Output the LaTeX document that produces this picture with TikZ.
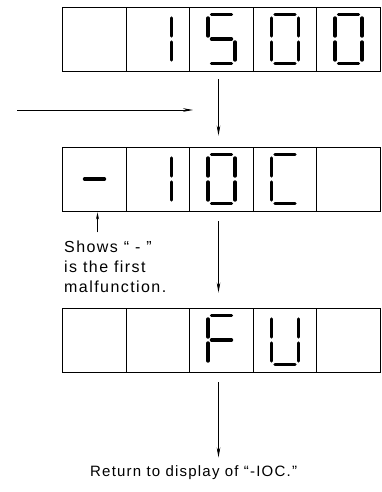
\documentclass[tikz,border=0pt]{standalone}
\usepackage{fontspec}
\setmainfont{Liberation Sans}
\usetikzlibrary{arrows.meta,positioning,calc}

\begin{document}
\begin{tikzpicture}[
  x=1pt,
  y=-1pt,
  digit cell/.style={
    draw,
    line width=0.9pt,
    minimum width=63.5pt,
    minimum height=64pt,
    inner sep=0pt
  },
  segment/.style={line width=3.4pt, line cap=round},
  flow/.style={line width=0.7pt, -{Stealth[length=10pt,width=3.6pt]}},
  label text/.style={
    font=\fontsize{15}{19.5}\selectfont\addfontfeature{LetterSpace=8},
    inner sep=0pt
  },
  note text/.style={
    font=\fontsize{16}{20}\selectfont\addfontfeature{LetterSpace=9},
    inner sep=0pt
  },
  seg a/.pic={\draw[segment] (-10,-24.5) -- (10,-24.5);},
  seg b/.pic={\draw[segment] (13.5,-21) -- (13.5,-3);},
  seg c/.pic={\draw[segment] (13.5,3) -- (13.5,21);},
  seg d/.pic={\draw[segment] (-10,24.5) -- (10,24.5);},
  seg e/.pic={\draw[segment] (-13.5,3) -- (-13.5,21);},
  seg f/.pic={\draw[segment] (-13.5,-21) -- (-13.5,-3);},
  seg g/.pic={\draw[segment] (-10,0) -- (10,0);}
]
  \useasboundingbox (0,0) rectangle (382,492);

  % three display rows of five cells
  \foreach [count=\row] \rowY in {39,179,340} {
    \foreach \col in {1,...,5} {
      \pgfmathsetmacro{\x}{94.5 + (\col-1)*63.5}
      \node[digit cell] (r\row c\col) at (\x,\rowY) {};
    }
  }

  % lit segments
  \foreach \cell/\segs in {
    r1c2/{b,c}, r1c3/{a,f,g,c,d}, r1c4/{a,b,c,d,e,f}, r1c5/{a,b,c,d,e,f},
    r2c1/{g}, r2c2/{b,c}, r2c3/{a,b,c,d,e,f}, r2c4/{a,f,e,d},
    r3c3/{a,f,g,e}, r3c4/{f,e,b,c,d}} {
    \foreach \s in \segs {
      \pic at (\cell) {seg \s};
    }
  }

  % input arrow
  \coordinate (in start) at (17,110);
  \coordinate (in end) at (193,110);
  \draw[flow] (in start) -- (in end);

  % flow between rows
  \draw[flow] ([xshift=-3pt,yshift=-8pt]r1c3.south) -- ([xshift=-3pt,yshift=11pt]r2c3.north);
  \draw[flow] ([xshift=-3pt,yshift=-10pt]r2c3.south) -- ([xshift=-3pt,yshift=15pt]r3c3.north);

  \node[note text, anchor=north west, align=left] (note) at (64,241)
    {Shows “ - ”\\is the first\\malfunction.};
  \draw[flow, -{Stealth[length=7pt,width=3pt]}]
    ([xshift=3pt,yshift=-21pt]r2c1.south) -- ([xshift=3pt,yshift=-1pt]r2c1.south);

  \node[label text, anchor=base west] (back) at (90,476) {Return to display of “-IOC.”};
  \draw[flow] ([xshift=-3pt,yshift=-10pt]r3c3.south) -- ([xshift=-3pt,yshift=-85pt]r3c3.south);
\end{tikzpicture}
\end{document}
